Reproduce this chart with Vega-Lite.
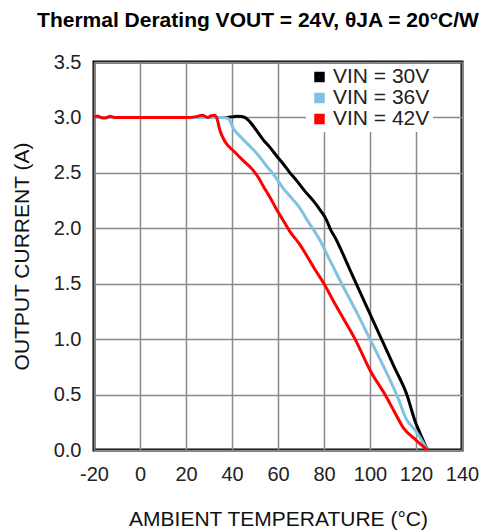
{
  "$schema": "https://vega.github.io/schema/vega-lite/v6.json",
  "autosize": "none",
  "width": 368,
  "height": 388,
  "padding": {"left": 94, "top": 62, "right": 31, "bottom": 82},
  "background": "white",
  "config": {
    "font": "Liberation Sans",
    "view": {"stroke": "black", "strokeWidth": 3},
    "axis": {
      "grid": true,
      "gridColor": "#8a8a8a",
      "gridWidth": 1.5,
      "ticks": false,
      "domain": false,
      "labelFont": "Liberation Sans",
      "labelFontSize": 20,
      "labelColor": "#222222",
      "titleFont": "Liberation Sans",
      "titleFontSize": 21,
      "titleFontWeight": "normal",
      "titleColor": "#111111"
    }
  },
  "title": {
    "text": "Thermal Derating VOUT = 24V, θJA = 20°C/W",
    "font": "Liberation Sans",
    "fontSize": 21,
    "fontWeight": "bold",
    "color": "black",
    "anchor": "middle",
    "dx": -20,
    "offset": 21
  },
  "data": {
    "values": [
      {"series": "VIN = 30V", "t": -20, "i": 3.0},
      {"series": "VIN = 30V", "t": 38, "i": 3.0},
      {"series": "VIN = 30V", "t": 40, "i": 3.005},
      {"series": "VIN = 30V", "t": 42, "i": 3.01},
      {"series": "VIN = 30V", "t": 44, "i": 3.008},
      {"series": "VIN = 30V", "t": 46, "i": 2.995},
      {"series": "VIN = 30V", "t": 47.8, "i": 2.96},
      {"series": "VIN = 30V", "t": 50.7, "i": 2.88},
      {"series": "VIN = 30V", "t": 53.5, "i": 2.8},
      {"series": "VIN = 30V", "t": 56.5, "i": 2.73},
      {"series": "VIN = 30V", "t": 59.5, "i": 2.65},
      {"series": "VIN = 30V", "t": 62.3, "i": 2.58},
      {"series": "VIN = 30V", "t": 65.2, "i": 2.5},
      {"series": "VIN = 30V", "t": 68.1, "i": 2.43},
      {"series": "VIN = 30V", "t": 71.5, "i": 2.34},
      {"series": "VIN = 30V", "t": 75.3, "i": 2.25},
      {"series": "VIN = 30V", "t": 78.5, "i": 2.16},
      {"series": "VIN = 30V", "t": 81.2, "i": 2.07},
      {"series": "VIN = 30V", "t": 82.6, "i": 2.0},
      {"series": "VIN = 30V", "t": 85.5, "i": 1.89},
      {"series": "VIN = 30V", "t": 88.4, "i": 1.76},
      {"series": "VIN = 30V", "t": 94, "i": 1.5},
      {"series": "VIN = 30V", "t": 99.5, "i": 1.25},
      {"series": "VIN = 30V", "t": 105, "i": 1.0},
      {"series": "VIN = 30V", "t": 110.5, "i": 0.75},
      {"series": "VIN = 30V", "t": 116, "i": 0.5},
      {"series": "VIN = 30V", "t": 119.6, "i": 0.26},
      {"series": "VIN = 30V", "t": 122, "i": 0.14},
      {"series": "VIN = 30V", "t": 125, "i": 0.0},

      {"series": "VIN = 36V", "t": -20, "i": 3.0},
      {"series": "VIN = 36V", "t": 36, "i": 3.0},
      {"series": "VIN = 36V", "t": 38.4, "i": 2.99},
      {"series": "VIN = 36V", "t": 40.6, "i": 2.9},
      {"series": "VIN = 36V", "t": 44, "i": 2.82},
      {"series": "VIN = 36V", "t": 47.8, "i": 2.74},
      {"series": "VIN = 36V", "t": 51, "i": 2.67},
      {"series": "VIN = 36V", "t": 55.1, "i": 2.56},
      {"series": "VIN = 36V", "t": 59, "i": 2.46},
      {"series": "VIN = 36V", "t": 62.3, "i": 2.36},
      {"series": "VIN = 36V", "t": 66, "i": 2.27},
      {"series": "VIN = 36V", "t": 69.6, "i": 2.18},
      {"series": "VIN = 36V", "t": 72.5, "i": 2.08},
      {"series": "VIN = 36V", "t": 75, "i": 2.0},
      {"series": "VIN = 36V", "t": 78.3, "i": 1.89},
      {"series": "VIN = 36V", "t": 81.4, "i": 1.76},
      {"series": "VIN = 36V", "t": 87.7, "i": 1.5},
      {"series": "VIN = 36V", "t": 94, "i": 1.25},
      {"series": "VIN = 36V", "t": 100, "i": 1.0},
      {"series": "VIN = 36V", "t": 106, "i": 0.75},
      {"series": "VIN = 36V", "t": 111.6, "i": 0.5},
      {"series": "VIN = 36V", "t": 116, "i": 0.27},
      {"series": "VIN = 36V", "t": 119.6, "i": 0.18},
      {"series": "VIN = 36V", "t": 125, "i": 0.0},

      {"series": "VIN = 42V", "t": -20, "i": 3.0},
      {"series": "VIN = 42V", "t": -18.5, "i": 3.012},
      {"series": "VIN = 42V", "t": -17, "i": 3.0},
      {"series": "VIN = 42V", "t": -15, "i": 2.995},
      {"series": "VIN = 42V", "t": -13, "i": 3.01},
      {"series": "VIN = 42V", "t": -11, "i": 3.0},
      {"series": "VIN = 42V", "t": 20, "i": 3.0},
      {"series": "VIN = 42V", "t": 24, "i": 3.005},
      {"series": "VIN = 42V", "t": 27, "i": 3.02},
      {"series": "VIN = 42V", "t": 29.5, "i": 3.0},
      {"series": "VIN = 42V", "t": 31, "i": 3.015},
      {"series": "VIN = 42V", "t": 32.5, "i": 3.02},
      {"series": "VIN = 42V", "t": 33.3, "i": 3.0},
      {"series": "VIN = 42V", "t": 34.8, "i": 2.88},
      {"series": "VIN = 42V", "t": 37, "i": 2.78},
      {"series": "VIN = 42V", "t": 40.6, "i": 2.7},
      {"series": "VIN = 42V", "t": 44.9, "i": 2.61},
      {"series": "VIN = 42V", "t": 49.3, "i": 2.52},
      {"series": "VIN = 42V", "t": 51.4, "i": 2.46},
      {"series": "VIN = 42V", "t": 53.6, "i": 2.38},
      {"series": "VIN = 42V", "t": 56.5, "i": 2.28},
      {"series": "VIN = 42V", "t": 59.4, "i": 2.17},
      {"series": "VIN = 42V", "t": 62.3, "i": 2.07},
      {"series": "VIN = 42V", "t": 65.2, "i": 1.97},
      {"series": "VIN = 42V", "t": 69.6, "i": 1.85},
      {"series": "VIN = 42V", "t": 72, "i": 1.77},
      {"series": "VIN = 42V", "t": 76, "i": 1.63},
      {"series": "VIN = 42V", "t": 80, "i": 1.5},
      {"series": "VIN = 42V", "t": 85, "i": 1.31},
      {"series": "VIN = 42V", "t": 90, "i": 1.13},
      {"series": "VIN = 42V", "t": 93.5, "i": 1.0},
      {"series": "VIN = 42V", "t": 100, "i": 0.72},
      {"series": "VIN = 42V", "t": 106.5, "i": 0.5},
      {"series": "VIN = 42V", "t": 110.5, "i": 0.35},
      {"series": "VIN = 42V", "t": 114.5, "i": 0.2},
      {"series": "VIN = 42V", "t": 120, "i": 0.09},
      {"series": "VIN = 42V", "t": 125, "i": 0.0}
    ]
  },
  "mark": {"type": "line", "strokeWidth": 3, "interpolate": "monotone"},
  "encoding": {
    "x": {
      "field": "t",
      "type": "quantitative",
      "scale": {"domain": [-20, 140], "nice": false},
      "axis": {
        "values": [-20, 0, 20, 40, 60, 80, 100, 120, 140],
        "labelExpr": "'' + datum.value",
        "title": "AMBIENT TEMPERATURE (°C)",
        "labelPadding": 14,
        "titlePadding": 24,
        "labelFlush": false
      }
    },
    "y": {
      "field": "i",
      "type": "quantitative",
      "scale": {"domain": [0, 3.5], "nice": false},
      "axis": {
        "values": [0, 0.5, 1, 1.5, 2, 2.5, 3, 3.5],
        "format": ".1f",
        "title": "OUTPUT CURRENT (A)",
        "labelPadding": 13,
        "titlePadding": 21,
        "labelFlush": false
      }
    },
    "color": {
      "field": "series",
      "type": "nominal",
      "scale": {
        "domain": ["VIN = 30V", "VIN = 36V", "VIN = 42V"],
        "range": ["#000000", "#80c2e2", "#ff0000"]
      },
      "legend": {
        "title": null,
        "orient": "none",
        "legendX": 212,
        "legendY": 2,
        "fillColor": "white",
        "padding": 3,
        "symbolType": "square",
        "symbolSize": 30,
        "symbolStrokeWidth": 5,
        "labelFont": "Liberation Sans",
        "labelFontSize": 21,
        "labelColor": "#222222",
        "labelOffset": 3,
        "clipHeight": 20,
        "rowPadding": 0
      }
    }
  }
}
